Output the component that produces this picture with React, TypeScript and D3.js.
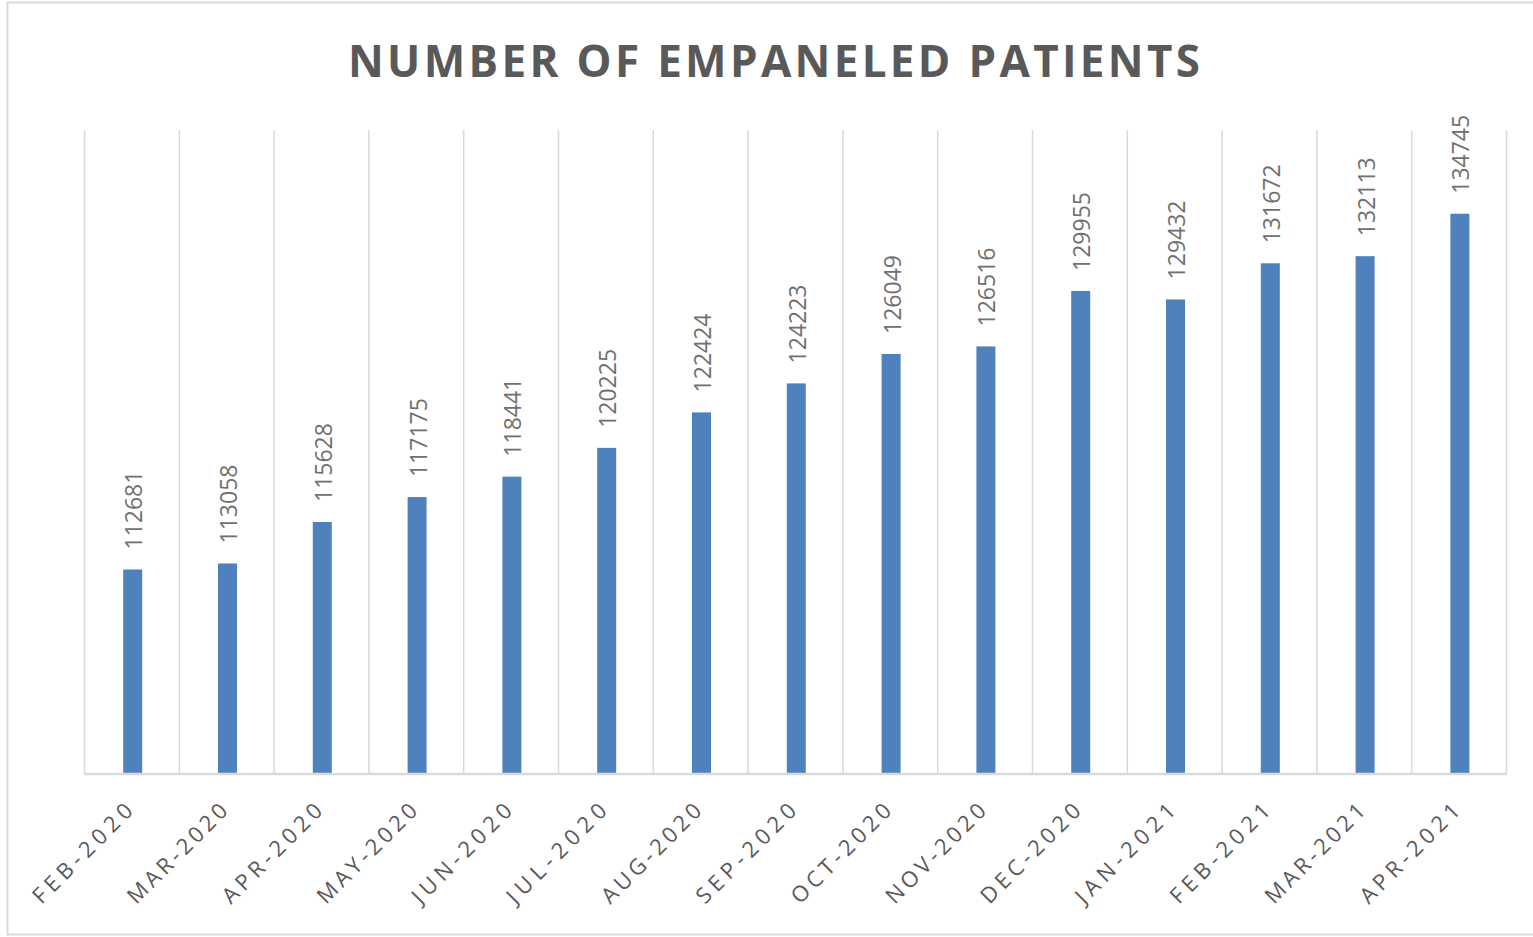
import React from "react";
import * as d3 from "d3";

const categories = ["FEB-2020","MAR-2020","APR-2020","MAY-2020","JUN-2020","JUL-2020","AUG-2020","SEP-2020","OCT-2020","NOV-2020","DEC-2020","JAN-2021","FEB-2021","MAR-2021","APR-2021"];
const values = [112681,113058,115628,117175,118441,120225,122424,124223,126049,126516,129955,129432,131672,132113,134745];
const yDomain = [100000, 140000];
const title = "NUMBER OF EMPANELED PATIENTS";

export default function App() {
  const W = 1533, H = 937;
  const left = 84.5, right = 1506.5, top = 129, bottom = 774;
  const x = d3.scaleBand<string>().domain(categories).range([left, right]).paddingInner(0).paddingOuter(0);
  const y = d3.scaleLinear().domain(yDomain).range([bottom, top]);
  const bw = 19;
  const font = "'Open Sans', 'Liberation Sans', sans-serif";
  const gridXs = d3.range(categories.length + 1).map(i => left + i * x.step());
  return (
    <svg width={W} height={H} style={{ position: "absolute", left: 0, top: 0, background: "#fff" }}>
      <rect x={7.5} y={2.5} width={1540} height={932} fill="#fff" stroke="#d9d9d9" strokeWidth={2} />
      <text x={774} y={77} textAnchor="middle" fontFamily={font} fontWeight={700} fontSize={44} fill="#595959" textLength={852} lengthAdjust="spacing">{title}</text>
      {gridXs.map((gx, i) => (
        <line key={i} x1={gx} x2={gx} y1={130} y2={bottom} stroke="#d9d9d9" strokeWidth={1.5} />
      ))}
      {categories.map((c, i) => {
        const cx = (x(c) as number) + x.bandwidth() / 2 + 0.8;
        const v = values[i];
        return (
          <g key={c}>
            <rect x={cx - bw / 2} y={y(v)} width={bw} height={bottom - y(v)} fill="#4f81bd" />
            <text transform={`translate(${cx + 1.5},${y(v) - 20}) rotate(-90)`} dy="0.35em" textAnchor="start" fontFamily={font} fontSize={23} fill="#707070">{v}</text>
            <text transform={`translate(${cx - 4},${bottom + 33}) rotate(-45)`} dy="0.35em" textAnchor="end" fontFamily={font} fontSize={22} fill="#595959" textLength={131} lengthAdjust="spacing">{c}</text>
          </g>
        );
      })}
      <line x1={left} x2={right} y1={bottom} y2={bottom} stroke="#d9d9d9" strokeWidth={2.5} />
    </svg>
  );
}
